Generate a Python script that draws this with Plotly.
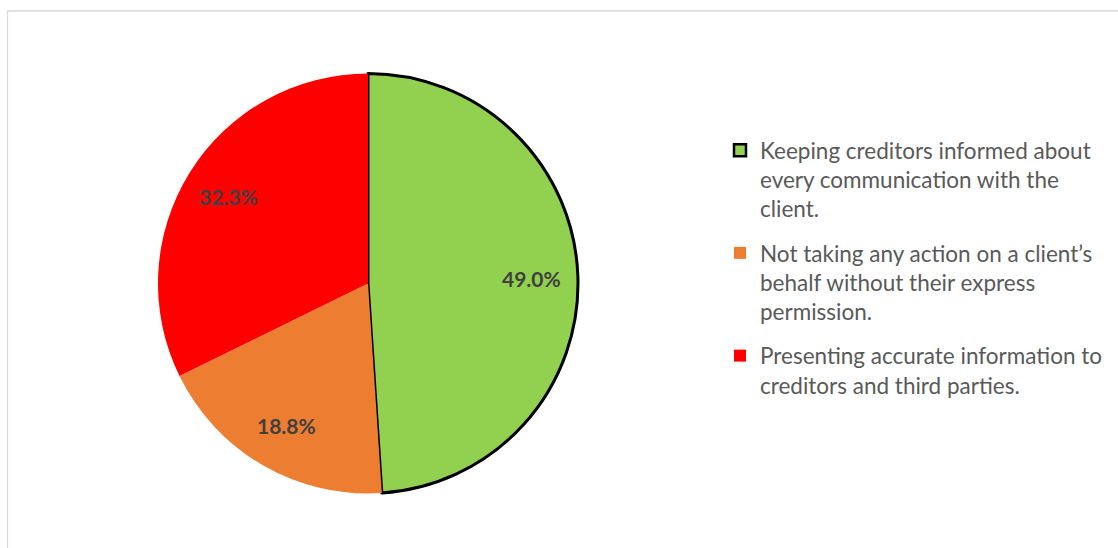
import math
import plotly.graph_objects as go

# Survey shares (percent) per answer
labels = [
    "Keeping creditors informed about<br>every communication with the<br>client.",
    "Not taking any action on a client\u2019s<br>behalf without their express<br>permission.",
    "Presenting accurate information to<br>creditors and third parties.",
]
shares = [49.0, 18.8, 32.3]
colors = ["#92D050", "#ED7D31", "#FF0000"]
edge_widths = [3, 0, 0]

W, H = 1118, 548
cx, cy, R = 368, 283.5, 210  # pie centre and radius in pixels

dom_x = [(cx - R) / W, (cx + R) / W]
dom_y = [(H - cy - R) / H, (H - cy + R) / H]

fig = go.Figure()
fig.add_trace(
    go.Pie(
        labels=labels,
        values=shares,
        sort=False,
        direction="clockwise",
        rotation=0,
        marker=dict(colors=colors, line=dict(color="#000000", width=edge_widths)),
        textinfo="none",
        hoverinfo="skip",
        showlegend=False,
        domain=dict(x=dom_x, y=dom_y),
    )
)

# Legend entries, one group per answer so the entries can be spaced apart
for i, (lab, col, lw) in enumerate(zip(labels, colors, edge_widths)):
    fig.add_trace(
        go.Scatter(
            x=[None],
            y=[None],
            mode="markers",
            name=lab,
            legendgroup=f"answer{i}",
            marker=dict(
                symbol="square",
                size=12,
                color=col,
                line=dict(color="#000000", width=min(lw, 2.5)),
            ),
            hoverinfo="skip",
        )
    )

# Percentage labels placed at the middle angle of each slice
total = sum(shares)
cum = 0.0
annotations = []
for v in shares:
    theta = math.radians((cum + v / 2) / total * 360)
    cum += v
    px = cx + 0.78 * R * math.sin(theta)
    py = cy - 0.78 * R * math.cos(theta)
    annotations.append(
        dict(
            x=px / W,
            y=(H - py) / H,
            xref="paper",
            yref="paper",
            xanchor="center",
            yanchor="middle",
            text=f"<b>{v:.1f}%</b>",
            showarrow=False,
            font=dict(family="Lato", size=21, color="#404040"),
        )
    )

fig.update_layout(
    width=W,
    height=H,
    margin=dict(l=0, r=0, t=0, b=0),
    paper_bgcolor="#FFFFFF",
    plot_bgcolor="#FFFFFF",
    xaxis=dict(visible=False),
    yaxis=dict(visible=False),
    annotations=annotations,
    showlegend=True,
    legend=dict(
        x=720 / W,
        y=(H - 129) / H,
        xanchor="left",
        yanchor="top",
        valign="top",
        tracegroupgap=12,
        font=dict(family="Lato", size=22.5, color="#595959"),
        itemclick=False,
        itemdoubleclick=False,
    ),
    shapes=[
        dict(
            type="rect",
            xref="paper",
            yref="paper",
            x0=7.5 / W,
            x1=1.2,
            y0=-0.2,
            y1=(H - 11) / H,
            line=dict(color="#D9D9D9", width=1.3),
            fillcolor="rgba(0,0,0,0)",
            layer="below",
        )
    ],
)

fig.write_html("out.html")
